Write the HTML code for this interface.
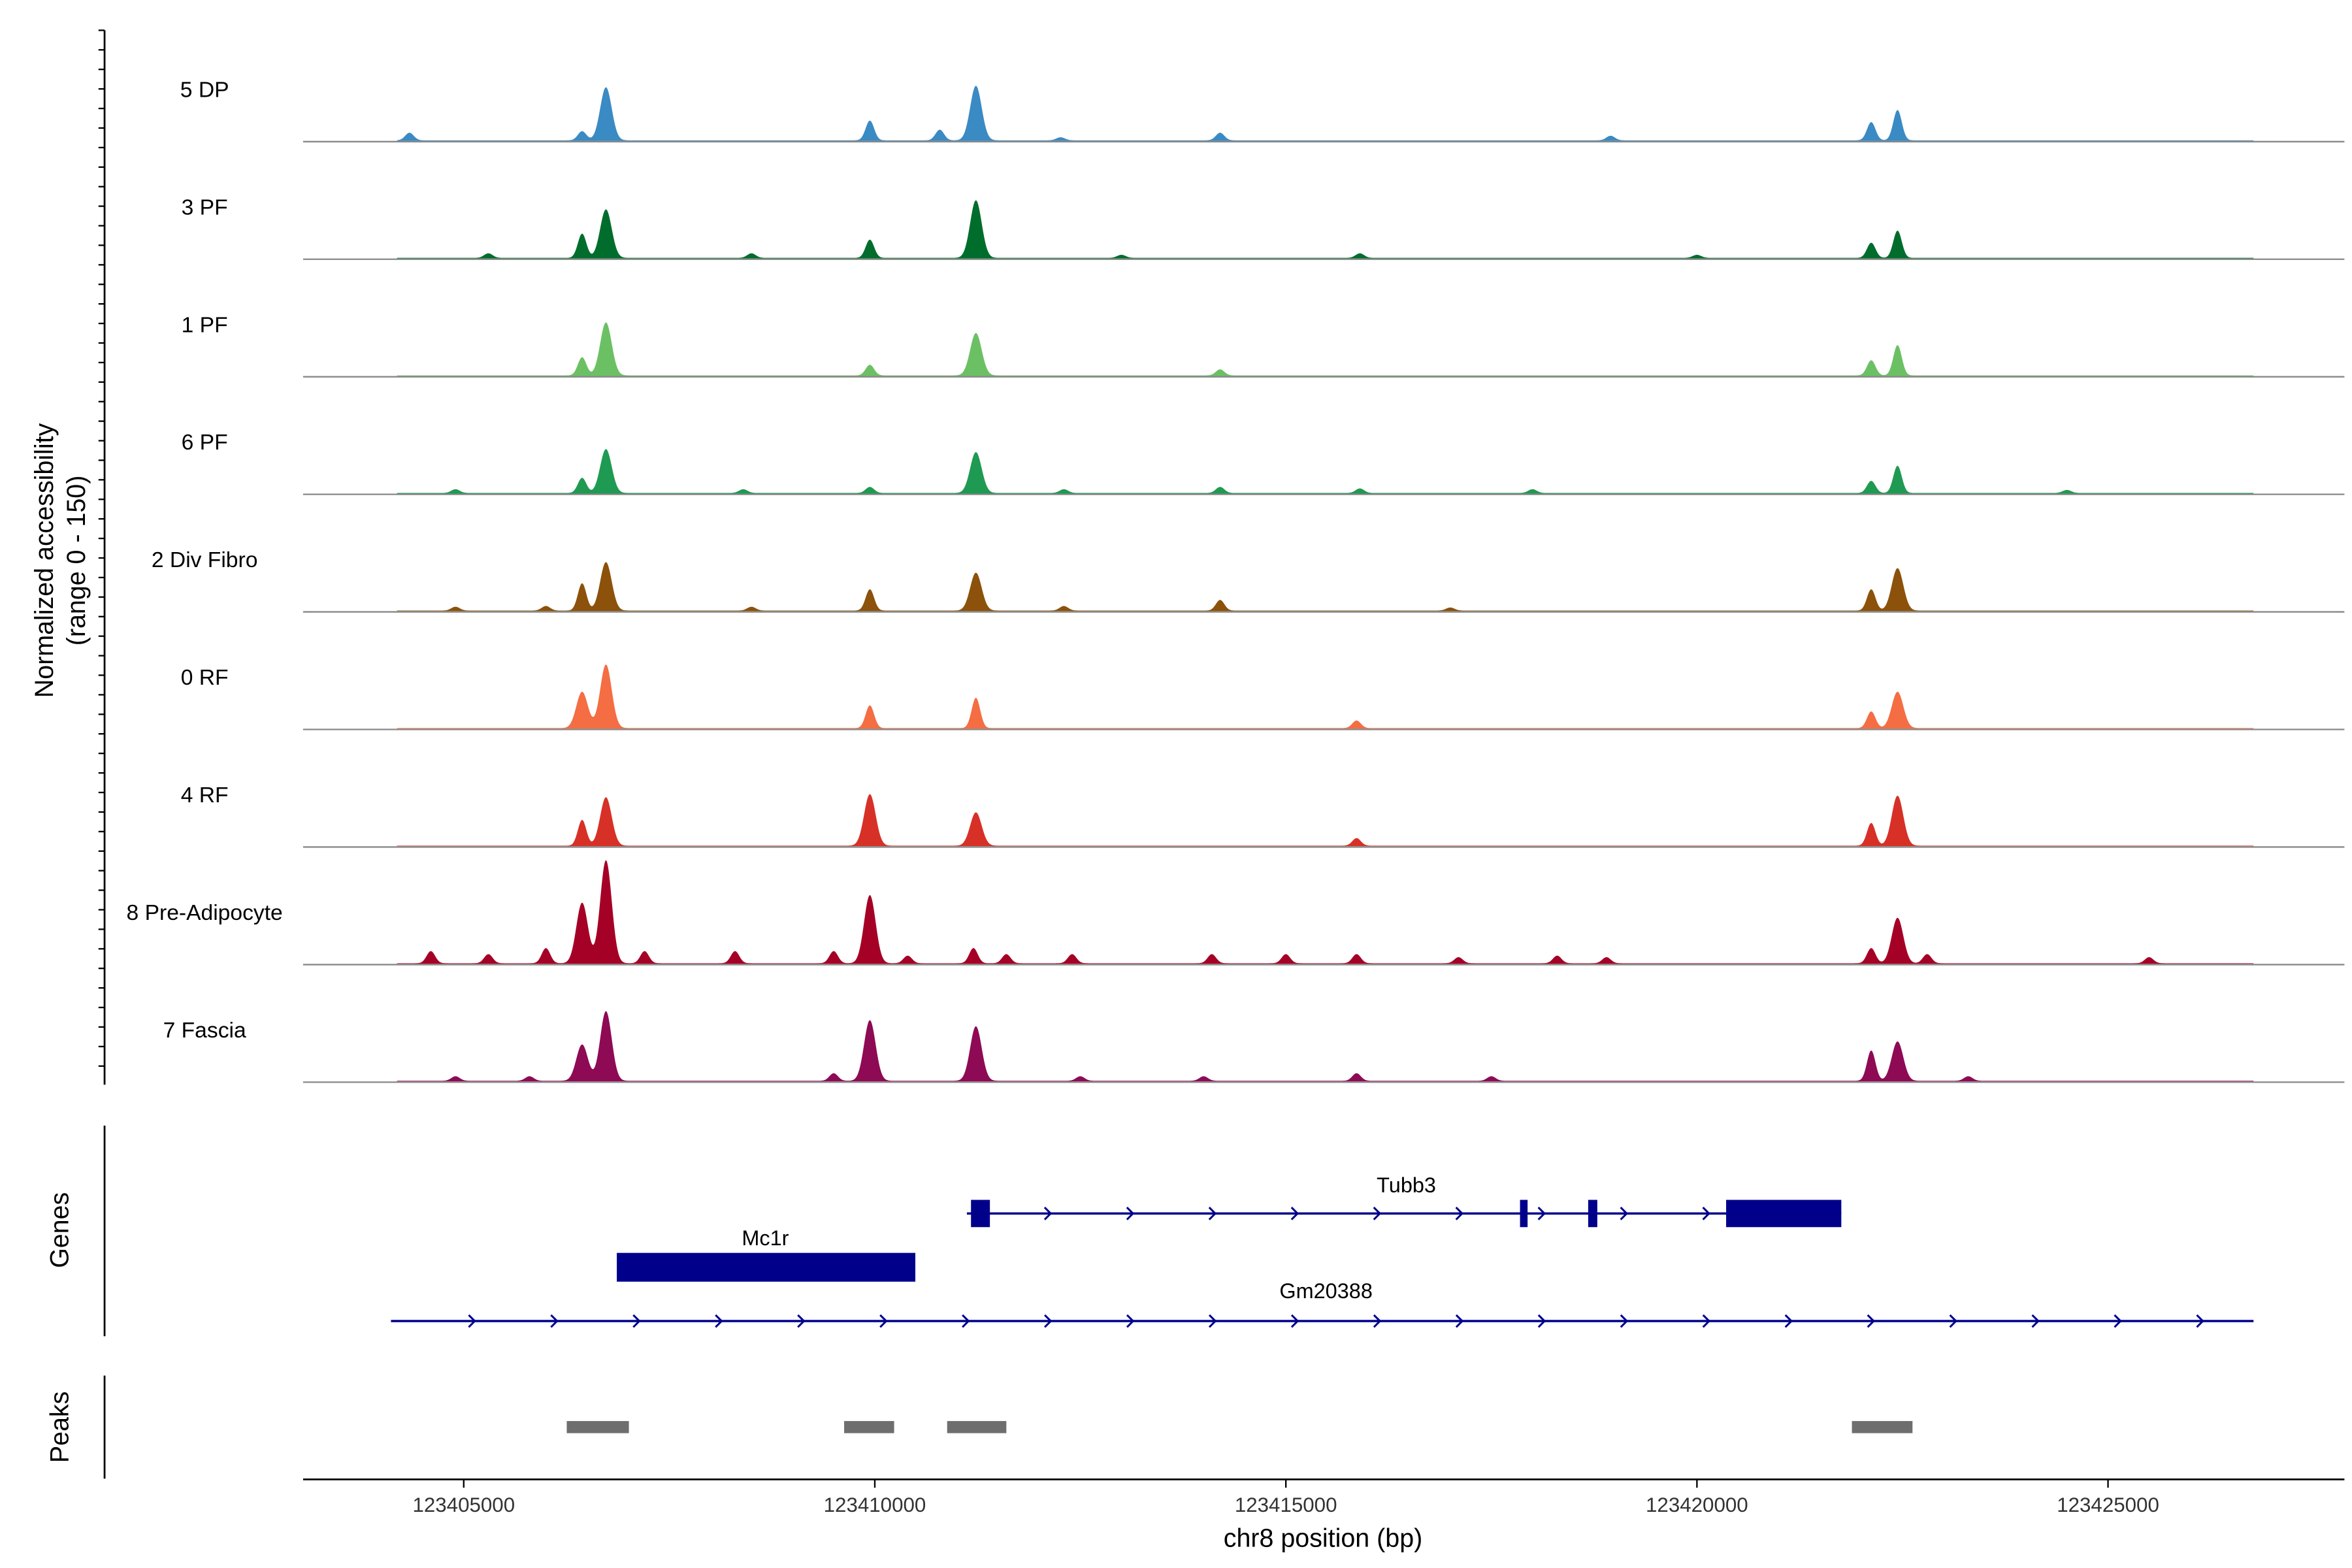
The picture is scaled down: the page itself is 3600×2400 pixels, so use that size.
<!DOCTYPE html>
<html><head><meta charset="utf-8"><style>
html,body{margin:0;padding:0;background:#fff;}
svg{display:block;font-family:"Liberation Sans",sans-serif;}
</style></head>
<body>
<svg id="chart" width="3600" height="2400" viewBox="0 0 1552 1035" preserveAspectRatio="none" xmlns="http://www.w3.org/2000/svg">
<rect width="1552" height="1035" fill="#fff"/>
<g id="tracks"></g>
<line x1="69" y1="20" x2="69" y2="716" stroke="#000" stroke-width="1.2"/>
<g id="yticks"></g>
<text transform="translate(35,370) rotate(-90)" text-anchor="middle" font-size="17">Normalized accessibility</text>
<text transform="translate(56,370) rotate(-90)" text-anchor="middle" font-size="17">(range 0 - 150)</text>
<line x1="69" y1="743" x2="69" y2="882" stroke="#000" stroke-width="1.2"/>
<text transform="translate(45,812) rotate(-90)" text-anchor="middle" font-size="17">Genes</text>
<line x1="69" y1="908" x2="69" y2="976" stroke="#000" stroke-width="1.2"/>
<text transform="translate(45,942) rotate(-90)" text-anchor="middle" font-size="17">Peaks</text>
<g id="genes"></g>
<g id="peaks"></g>
<line x1="200" y1="976.5" x2="1547" y2="976.5" stroke="#000" stroke-width="1.2"/>
<g id="xticks"></g>
<text x="873" y="1021" text-anchor="middle" font-size="17">chr8 position (bp)</text>
</svg>
<script>
// Data (positions in kb offset from 123400000, values in normalized accessibility units 0-150)
const trackNames = ["5 DP","3 PF","1 PF","6 PF","2 Div Fibro","0 RF","4 RF","8 Pre-Adipocyte","7 Fascia"];
const trackColors = ["#3a8ac4","#006d2c","#6cc064","#1f9a52","#8c510a","#f46d43","#d73027","#a50026","#8e0a55"];
const peaksDP = [[4.34,10],[6.44,12],[6.73,70],[9.94,26],[10.79,14],[11.23,72],[12.26,4],[14.2,10],[18.95,6],[22.12,24],[22.44,40]];
const peaksPF3 = [[5.3,6],[6.44,32],[6.73,64],[8.5,6],[9.94,24],[11.23,76],[13,4],[15.9,6],[20,4],[22.12,20],[22.44,36]];
const peaksPF1 = [[6.44,24],[6.73,70],[9.94,14],[11.23,56],[14.2,8],[22.12,20],[22.44,40]];
const peaksPF6 = [[4.9,5],[6.44,20],[6.73,58],[8.4,5],[9.94,8],[11.23,54],[12.3,5],[14.2,8],[15.9,6],[18,5],[22.12,16],[22.44,36],[24.5,4]];
const peaksDiv = [[4.9,5],[6.0,6],[6.44,36],[6.73,64],[8.5,5],[9.94,28],[11.23,50],[12.3,6],[14.2,14],[17,4],[22.12,28],[22.44,56]];
const peaksRF0 = [[6.44,48],[6.73,84],[9.94,30],[11.23,40],[15.86,10],[22.12,22],[22.44,48]];
const peaksRF4 = [[6.44,34],[6.73,64],[9.94,68],[11.23,44],[15.86,10],[22.12,30],[22.44,66]];
const peaksPre = [[4.6,16],[5.3,12],[6.0,20],[6.44,80],[6.73,136],[7.2,16],[8.3,16],[9.5,16],[9.94,90],[10.4,10],[11.2,20],[11.6,12],[12.4,12],[14.1,12],[15.0,12],[15.86,12],[17.1,8],[18.3,10],[18.9,8],[22.12,20],[22.44,60],[22.8,12],[25.5,8]];
const peaksFas = [[4.9,6],[5.8,6],[6.44,48],[6.73,92],[9.94,80],[9.5,10],[11.23,72],[12.5,6],[14.0,6],[15.86,10],[17.5,6],[22.12,40],[22.44,52],[23.3,6]];
const trackPeaks = [peaksDP,peaksPF3,peaksPF1,peaksPF6,peaksDiv,peaksRF0,peaksRF4,peaksPre,peaksFas];
const xTickValues = [123405000,123410000,123415000,123420000,123425000];
const peakRegions = [[123406253,123407009],[123409627,123410235],[123410880,123411600],[123421885,123422622]];
const geneTubb3Exons = [[123411170,123411400],[123417848,123417940],[123418677,123418788],[123420355,123421756]];

const NS="http://www.w3.org/2000/svg";
function xScale(bp){return 306+(bp-123405000)*0.05425;}
function kbX(kb){return xScale(123400000+kb*1000);}
const trackStep=77.6, unitPx=0.5;
function baseY(i){return 93+i*trackStep;}
function mk(tag,attrs,parent){const e=document.createElementNS(NS,tag);for(const k in attrs)e.setAttribute(k,attrs[k]);parent.appendChild(e);return e;}

const gT=document.getElementById('tracks');
trackNames.forEach((name,i)=>{
  const by=baseY(i);
  const pk=trackPeaks[i];
  let d=`M262,${by}`;
  for(let x=262;x<=1487;x+=0.5){
    let v=0.8;
    for(const p of pk){const px=kbX(p[0]);const s=(p[1]>40?3.8:2.8);v+=p[1]*Math.exp(-((x-px)*(x-px))/(2*s*s));}
    d+=`L${x},${(by-Math.min(v,150)*unitPx).toFixed(2)}`;
  }
  d+=`L1487,${by}Z`;
  const a=mk('path',{d:d,fill:trackColors[i]},gT);
  
  
  const l=mk('line',{x1:200,y1:by+0.5,x2:1547,y2:by+0.5,stroke:'#888','stroke-width':1},gT);
  
  
  const t=mk('text',{x:135,y:by-29,'text-anchor':'middle','font-size':14.5},gT);
  t.textContent=name;
  
  
});
const gY=document.getElementById('yticks');
for(let y=20;y<=716;y+=12.9){
  const tk=mk('line',{x1:65,y1:y,x2:69,y2:y,stroke:'#000','stroke-width':1},gY);
  
  
}
const gX=document.getElementById('xticks');
xTickValues.forEach(v=>{
  const x=xScale(v);
  const tk=mk('line',{x1:x,y1:977,x2:x,y2:982,stroke:'#000','stroke-width':1},gX);
  
  
  const t=mk('text',{x:x,y:998,'text-anchor':'middle','font-size':13.5,fill:'#333'},gX);
  t.textContent=v;
  
  
});
// genes
const gG=document.getElementById('genes');
function arrows(x1,x2,y,step){for(let x=x1+step;x<x2;x+=step){const p=mk('polyline',{points:`${x-3},${y-4} ${x+1},${y} ${x-3},${y+4}`,fill:'none',stroke:'#00008b','stroke-width':1.3},gG);}}
const tubStart=xScale(123411120), tubEnd=xScale(123421756);
let e=mk('line',{x1:tubStart,y1:801,x2:tubEnd,y2:801,stroke:'#00008b','stroke-width':1.5},gG);


arrows(tubStart,tubEnd,801,54.3);
geneTubb3Exons.forEach(ex=>{const r=mk('rect',{x:xScale(ex[0]),y:792,width:xScale(ex[1])-xScale(ex[0]),height:18,fill:'#00008b'},gG);});
e=mk('text',{x:928,y:787,'text-anchor':'middle','font-size':14},gG);e.textContent='Tubb3';


e=mk('rect',{x:xScale(123406862),y:827,width:xScale(123410493)-xScale(123406862),height:19,fill:'#00008b'},gG);


e=mk('text',{x:505,y:822,'text-anchor':'middle','font-size':14},gG);e.textContent='Mc1r';


const gmS=xScale(123404115), gmE=xScale(123426770);
e=mk('line',{x1:gmS,y1:872,x2:gmE,y2:872,stroke:'#00008b','stroke-width':1.5},gG);


arrows(gmS,gmE+2,872,54.3);
e=mk('text',{x:875,y:857,'text-anchor':'middle','font-size':14},gG);e.textContent='Gm20388';


// peaks
const gP=document.getElementById('peaks');
peakRegions.forEach(p=>{const r=mk('rect',{x:xScale(p[0]),y:938,width:xScale(p[1])-xScale(p[0]),height:8,fill:'#6e6e6e'},gP);});
</script>
</body></html>
